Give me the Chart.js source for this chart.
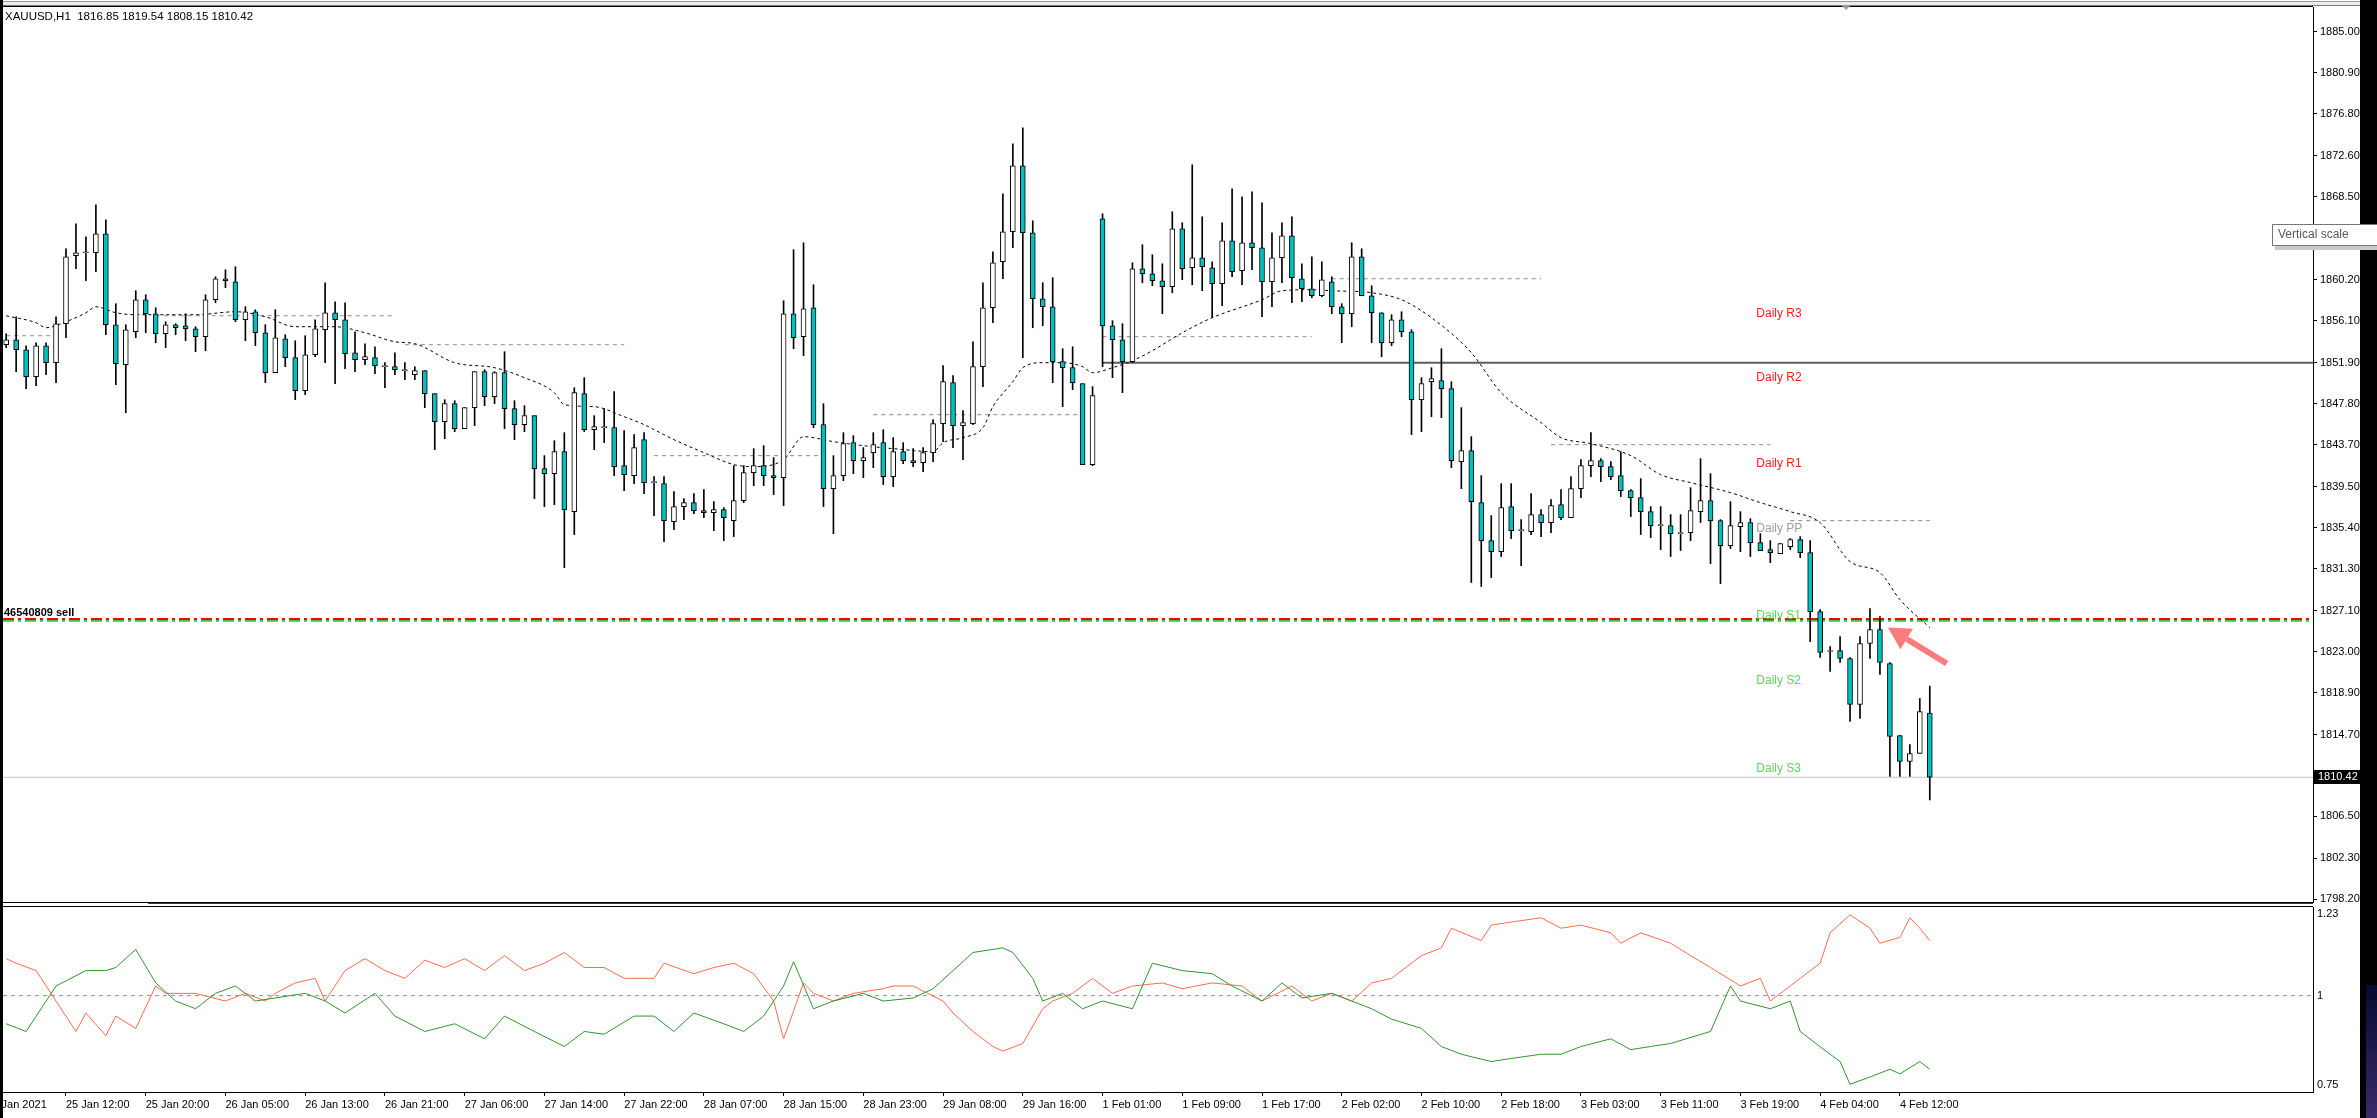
<!DOCTYPE html>
<html>
<head>
<meta charset="utf-8">
<title>XAUUSD,H1</title>
<script src="https://cdn.jsdelivr.net/npm/chart.js@4.4.1/dist/chart.umd.min.js"></script>
<style>
  html, body { margin: 0; padding: 0; background: #fff; overflow: hidden; }
  #wrap { position: relative; width: 2377px; height: 1118px; }
  canvas { position: absolute; left: 0; }
  #price { top: 0; }
  #ratio { top: 897px; }
</style>
</head>
<body>
<div id="wrap">
  <canvas id="price" width="2377" height="905"></canvas>
  <canvas id="ratio" width="2377" height="221"></canvas>
</div>
<script>
// ---- data ----
const symbol = 'XAUUSD,H1';

// hourly candles, bar 0 = 25 Jan 06:00 ... bar 193 = 4 Feb 15:00
const opens = [1853.7,1854.2,1853.2,1850.5,1853.6,1851.9,1855.8,1862.6,1862.9,1862.9,1864.8,1855.7,1851.7,1855.0,1858.2,1856.8,1854.8,1855.7,1855.6,1855.3,
  1854.5,1858.2,1860.3,1860.0,1856.2,1857.0,1854.9,1850.9,1854.3,1852.4,1849.1,1852.7,1855.2,1856.9,1856.2,1852.9,1852.2,1852.4,1851.5,1851.5,
  1851.1,1850.7,1851.1,1848.8,1846.0,1847.8,1845.3,1847.4,1851.0,1848.5,1850.9,1847.3,1845.7,1846.6,1841.3,1840.8,1843.0,1837.0,1848.8,1845.2,
  1845.4,1845.4,1841.6,1840.6,1844.2,1839.9,1839.8,1836.0,1837.5,1837.9,1837.1,1836.9,1837.2,1836.1,1838.1,1840.9,1841.6,1840.6,1840.4,1856.8,
  1854.5,1857.4,1845.7,1839.3,1840.6,1843.9,1842.1,1842.9,1843.9,1840.5,1843.0,1842.1,1841.9,1842.9,1845.8,1849.9,1845.6,1845.8,1851.5,1857.4,
  1862.0,1865.0,1871.6,1864.9,1858.3,1857.5,1852.0,1851.4,1849.8,1841.7,1866.3,1855.6,1854.2,1852.0,1861.3,1860.8,1860.1,1859.5,1865.3,1861.4,
  1862.4,1861.4,1859.8,1864.1,1861.1,1863.9,1863.4,1860.0,1862.4,1864.6,1860.3,1859.3,1858.6,1860.0,1857.5,1856.8,1862.5,1858.6,1856.9,1853.9,
  1856.2,1855.0,1848.2,1850.0,1850.1,1849.3,1842.0,1843.1,1837.9,1834.1,1833.0,1837.5,1835.1,1835.0,1836.7,1835.9,1837.7,1836.4,1839.3,1841.6,
  1842.1,1841.5,1840.6,1839.1,1838.4,1837.0,1835.6,1835.6,1834.8,1834.9,1837.0,1838.1,1836.1,1833.6,1835.5,1835.9,1833.9,1833.2,1832.8,1833.5,
  1834.2,1832.9,1827.0,1823.0,1823.1,1822.3,1817.7,1823.8,1825.2,1821.8,1814.6,1812.0,1812.8,1816.85];
const highs = [1854.8,1856.5,1853.6,1853.9,1853.9,1856.5,1863.3,1865.8,1864.5,1867.7,1866.2,1857.8,1855.7,1859.1,1858.7,1857.4,1856.0,1855.8,1856.8,1855.5,
  1858.7,1860.5,1861.2,1861.5,1857.5,1857.2,1855.7,1857.2,1854.7,1854.1,1854.6,1856.2,1859.9,1858.0,1857.9,1855.0,1853.8,1853.5,1851.9,1852.9,
  1851.9,1851.5,1851.1,1848.8,1848.2,1848.1,1847.4,1851.0,1851.2,1851.0,1853.0,1848.1,1847.6,1846.6,1842.6,1844.1,1844.9,1849.4,1850.4,1846.6,
  1847.3,1849.0,1845.1,1844.7,1844.9,1840.5,1840.5,1839.0,1838.3,1838.8,1839.2,1838.0,1837.4,1841.6,1841.6,1843.3,1843.6,1842.4,1858.1,1863.2,
  1863.9,1859.7,1847.8,1842.6,1844.9,1844.6,1843.4,1844.9,1845.2,1844.4,1843.9,1843.3,1843.4,1846.2,1851.6,1850.6,1847.1,1854.0,1859.9,1863.0,
  1868.8,1873.8,1875.4,1866.1,1859.9,1860.4,1853.3,1853.5,1849.8,1849.5,1866.8,1856.1,1855.8,1861.9,1863.7,1862.7,1861.8,1867.0,1865.9,1871.7,
  1866.5,1862.0,1865.9,1869.3,1868.5,1869.0,1867.9,1864.9,1865.9,1866.5,1861.8,1862.5,1862.0,1860.5,1857.8,1863.9,1863.3,1859.6,1856.9,1856.7,
  1857.0,1855.2,1850.4,1851.4,1853.3,1850.0,1847.4,1844.5,1840.6,1836.6,1839.8,1839.8,1836.2,1838.8,1837.2,1838.2,1839.2,1840.5,1842.2,1844.9,
  1842.3,1842.0,1843.0,1839.2,1840.3,1837.5,1837.5,1836.7,1836.7,1839.4,1842.3,1840.8,1836.2,1838.0,1837.0,1836.3,1834.8,1834.1,1833.8,1834.3,
  1834.5,1834.1,1827.2,1823.5,1824.5,1822.4,1824.5,1827.3,1826.5,1821.9,1814.6,1813.7,1818.3,1819.54];
const lows = [1853.4,1851.0,1849.3,1849.6,1850.7,1849.9,1854.4,1861.3,1860.1,1861.0,1854.7,1849.7,1846.9,1854.4,1854.9,1853.9,1853.4,1854.7,1854.1,1853.0,
  1853.1,1857.9,1859.4,1856.0,1854.1,1853.6,1849.9,1850.9,1851.5,1848.2,1848.7,1852.5,1851.9,1849.8,1851.3,1851.0,1851.7,1850.8,1849.4,1850.7,
  1850.2,1850.2,1847.4,1843.2,1844.3,1845.0,1845.3,1845.6,1847.6,1847.8,1845.3,1844.2,1845.0,1838.3,1837.5,1837.7,1831.4,1834.7,1845.0,1843.2,
  1843.9,1840.6,1839.1,1839.8,1838.8,1836.6,1834.0,1835.2,1836.2,1836.8,1836.4,1835.1,1834.1,1834.5,1837.9,1839.6,1839.6,1838.7,1837.6,1853.3,
  1852.6,1845.4,1837.5,1834.8,1840.1,1840.8,1840.4,1841.4,1839.7,1839.5,1841.8,1841.5,1841.0,1842.0,1844.0,1843.4,1842.2,1845.7,1849.5,1855.9,
  1860.3,1863.4,1852.4,1855.4,1855.6,1849.9,1847.5,1849.2,1841.7,1841.6,1851.5,1850.4,1848.9,1851.9,1859.9,1859.6,1856.8,1858.9,1860.2,1859.7,
  1859.1,1856.4,1857.6,1860.5,1859.7,1861.2,1856.5,1857.5,1859.9,1857.9,1858.0,1858.4,1858.5,1856.8,1853.9,1855.5,1858.6,1853.9,1852.5,1853.6,
  1854.5,1844.7,1845.0,1846.5,1846.4,1841.4,1839.3,1829.9,1829.5,1830.4,1832.5,1834.3,1831.6,1834.7,1834.5,1834.9,1836.2,1836.4,1838.4,1840.5,
  1840.0,1840.2,1838.5,1836.5,1834.7,1834.4,1833.2,1832.5,1833.1,1834.1,1835.9,1831.8,1829.8,1833.3,1833.0,1832.5,1833.1,1831.9,1832.8,1833.2,
  1832.4,1824.0,1822.4,1821.0,1821.9,1816.0,1816.3,1822.3,1820.7,1810.5,1810.5,1810.5,1812.8,1808.15];
const closes = [1854.2,1853.2,1850.5,1853.6,1851.9,1855.8,1862.5,1862.9,1862.9,1864.8,1855.7,1851.8,1855.2,1858.2,1856.8,1854.8,1855.7,1855.4,1855.3,1854.5,
  1858.2,1860.3,1860.1,1856.2,1857.0,1854.9,1850.9,1854.4,1852.4,1849.1,1852.7,1855.3,1856.9,1856.2,1852.8,1852.2,1852.5,1851.6,1851.5,1851.2,
  1851.1,1851.1,1848.8,1846.0,1847.8,1845.3,1847.4,1851.0,1848.5,1850.9,1847.3,1845.7,1846.6,1841.3,1840.8,1843.0,1837.2,1848.9,1845.2,1845.5,
  1845.4,1841.5,1840.7,1843.4,1839.9,1839.9,1836.1,1837.5,1837.9,1837.1,1836.9,1837.2,1836.4,1838.1,1840.9,1841.6,1840.6,1840.4,1856.8,1854.4,
  1857.3,1845.7,1839.3,1840.6,1843.8,1842.1,1842.4,1843.7,1840.5,1843.0,1842.1,1841.9,1842.9,1845.8,1850.0,1845.6,1845.9,1851.5,1857.4,1861.9,
  1865.0,1871.6,1864.9,1858.3,1857.5,1852.0,1851.4,1849.9,1841.7,1848.6,1855.6,1854.2,1852.0,1861.3,1860.8,1860.1,1859.5,1865.3,1861.3,1862.4,
  1861.5,1859.8,1864.1,1861.0,1863.9,1863.4,1860.0,1862.4,1864.6,1860.4,1859.3,1858.6,1860.2,1857.5,1856.8,1862.5,1858.6,1856.9,1853.9,1856.2,
  1855.0,1848.2,1849.8,1850.3,1849.3,1842.1,1843.1,1838.0,1834.1,1833.0,1837.4,1835.1,1835.1,1836.7,1835.9,1837.6,1836.4,1839.3,1841.6,1842.1,
  1841.5,1840.5,1839.1,1838.4,1837.0,1835.6,1835.6,1834.8,1834.8,1837.1,1838.1,1836.1,1833.6,1835.6,1835.9,1833.9,1833.1,1832.9,1833.8,1834.2,
  1832.9,1827.0,1822.9,1823.0,1822.3,1817.7,1823.8,1825.2,1821.9,1814.5,1812.0,1812.8,1817.0,1810.42];

// moving average (dashed black), sampled along the curve
const maBars = [0,3,4,6,8,9,11,13,16,19,23,26,29,33,36,39,41,45,49,52,55,56,59,62,64,67,70,73,75,78,
  80,83,86,89,93,94,96,98,99,101,102,104,106,108,109,111,113,115,118,121,126,128,131,133,137,140,143,147,150,154,
  156,159,163,166,169,173,176,179,182,185,188,190,193];
const maVals = [1856.6,1855.9,1855.4,1856.0,1856.9,1857.5,1856.9,1856.7,1856.7,1856.7,1857.0,1856.5,1855.5,1855.5,1854.9,1854.0,1853.8,1851.9,1851.4,1850.4,
  1848.9,1847.7,1847.5,1846.5,1845.7,1844.2,1842.9,1841.7,1841.5,1842.2,1844.5,1844.0,1843.6,1843.3,1843.0,1843.9,1844.4,1845.4,1847.5,1850.0,
  1851.4,1851.9,1851.9,1851.5,1850.9,1851.4,1852.1,1853.1,1854.9,1856.4,1858.2,1859.1,1859.2,1859.1,1858.9,1858.2,1856.4,1852.9,1848.9,1845.9,
  1844.4,1843.8,1842.6,1840.7,1839.9,1838.9,1837.9,1837.0,1835.9,1832.0,1830.9,1828.2,1825.4];

// previous-day pivot segments (grey dotted)
const pivotStart = [0, 15, 40, 65, 87, 110, 133, 155, 179];
const pivotEnd = [5, 39, 62, 82, 108, 131, 154, 177, 193];
const pivotLevels = [1854.6, 1856.6, 1853.7, 1842.6, 1846.7, 1854.5, 1860.3, 1843.7, 1836.1];

// daily pivot labels
const dailyNames = ['Daily R3', 'Daily R2', 'Daily R1', 'Daily PP', 'Daily S1', 'Daily S2', 'Daily S3'];
const dailyLevels = [1856.8, 1850.4, 1841.8, 1835.3, 1826.6, 1820.1, 1811.3];
const dailyBar = 175.6;

// horizontal objects
const levelLine = 1851.9, levelLineFrom = 110;
const sellPrice = 1826.2, sellTicket = '46540809 sell';
const arrowTip = [188.8, 1825.4], arrowTail = [194.7, 1821.8];

// ratio sub-window
const redBars = [0,1,3,5,7,8,10,11,13,15,16,19,22,24,26,27,29,31,32,34,36,38,40,42,44,46,48,50,52,54,56,58,60,62,65,66,69,71,73,75,
  77,78,80,81,83,85,88,89,91,94,95,97,99,100,102,104,105,107,109,111,113,116,118,121,124,126,129,131,133,135,137,139,142,144,145,148,149,151,154,156,
  158,161,162,164,167,169,171,174,176,177,179,180,182,183,185,187,188,190,191,192,193];
const redVals = [1.096,1.084,1.065,0.986,0.907,0.955,0.896,0.947,0.915,1.025,1.006,1.006,0.986,1.006,0.986,1.006,1.033,1.045,0.986,1.065,
  1.096,1.065,1.045,1.092,1.073,1.096,1.065,1.104,1.065,1.084,1.112,1.073,1.073,1.045,1.045,1.084,1.057,1.073,1.084,1.057,
  0.986,0.888,1.033,1.006,0.986,1.006,1.018,1.025,1.025,0.986,0.955,0.907,0.868,0.856,0.876,0.966,0.986,1.006,1.045,1.006,
  1.025,1.033,1.018,1.033,1.025,0.986,1.025,0.986,1.006,0.986,1.033,1.045,1.104,1.124,1.175,1.143,1.183,1.191,1.202,1.175,
  1.183,1.163,1.136,1.163,1.136,1.104,1.073,1.025,1.045,0.986,1.025,1.045,1.084,1.163,1.210,1.175,1.136,1.151,1.202,1.175,1.143];
const greenBars = [0,2,5,8,10,11,13,15,17,19,21,23,25,27,30,32,34,37,39,42,45,48,50,53,56,58,60,63,65,67,
  69,72,74,76,78,79,81,83,86,88,91,93,95,97,100,101,103,104,106,108,110,113,115,118,121,123,126,128,130,133,
  135,137,139,142,144,146,149,151,154,156,158,161,163,165,167,171,173,174,177,179,180,183,184,185,187,189,190,192,193];
const greenVals = [0.927,0.907,1.025,1.065,1.065,1.073,1.120,1.033,0.986,0.966,1.006,1.025,0.986,0.994,1.006,0.986,0.955,1.006,0.947,0.907,
  0.927,0.888,0.947,0.907,0.868,0.907,0.900,0.947,0.947,0.907,0.955,0.927,0.907,0.947,1.025,1.088,0.966,0.986,1.006,0.986,
  0.994,1.018,1.065,1.112,1.124,1.112,1.045,0.986,1.006,0.966,0.986,0.966,1.084,1.065,1.057,1.025,0.986,1.033,0.994,1.006,
  0.986,0.966,0.939,0.915,0.868,0.848,0.829,0.837,0.848,0.848,0.868,0.888,0.860,0.868,0.876,0.907,1.025,0.986,0.966,0.986,
  0.907,0.848,0.829,0.770,0.789,0.809,0.797,0.829,0.809];

// axis ticks
const priceTicks = [1885.00,1880.90,1876.80,1872.60,1868.50,1864.40,1860.20,1856.10,1851.90,1847.80,1843.70,1839.50,
  1835.40,1831.30,1827.10,1823.00,1818.90,1814.70,1810.60,1806.50,1802.30,1798.20];
const ratioTicks = [1.23, 1, 0.75];
const timeLabels = ['25 Jan 2021','25 Jan 12:00','25 Jan 20:00','26 Jan 05:00','26 Jan 13:00','26 Jan 21:00','27 Jan 06:00',
  '27 Jan 14:00','27 Jan 22:00','28 Jan 07:00','28 Jan 15:00','28 Jan 23:00','29 Jan 08:00','29 Jan 16:00','1 Feb 01:00',
  '1 Feb 09:00','1 Feb 17:00','2 Feb 02:00','2 Feb 10:00','2 Feb 18:00','3 Feb 03:00','3 Feb 11:00','3 Feb 19:00',
  '4 Feb 04:00','4 Feb 12:00'];
const timeTickBars = [-2,6,14,22,30,38,46,54,62,70,78,86,94,102,110,118,126,134,142,150,158,166,174,182,190];

// ---- chart setup ----
const FONT = '"Liberation Sans", Arial, sans-serif';
Chart.defaults.font.family = FONT;
const xMin = -0.32, xMax = 231.45;
const AXIS_W = 64;
const TEAL = '#00bfbf';
const last = closes.length - 1;
const bars = closes.map((_, i) => i);

function hLine(value, from, to) {
  return [{x: from, y: value}, {x: to, y: value}];
}
function flatLine(data, color, width, dash, order) {
  return {type: 'line', data, borderColor: color, borderWidth: width, borderDash: dash || [],
    pointRadius: 0, fill: false, tension: 0, order};
}
function fixedAxis(s) {
  s.width = AXIS_W;
  s.paddingTop = 0; s.paddingBottom = 0; s.paddingLeft = 0; s.paddingRight = 0;
}

const pivotSets = pivotLevels.map((lv, k) =>
  flatLine(hLine(lv, pivotStart[k], pivotEnd[k]), '#8c8c8c', 1, [4, 4], 3));

const priceDecor = {
  id: 'priceDecor',
  afterDraw(chart) {
    const {ctx, chartArea: a, scales: {x, y}} = chart;
    const W = chart.width, H = chart.height;
    ctx.save();
    // window top edge
    ctx.fillStyle = '#ffffff'; ctx.fillRect(0, 0, W, a.top);
    ctx.fillStyle = '#9a9a9a'; ctx.fillRect(0, 1, W, 1);
    ctx.fillStyle = '#ececec'; ctx.fillRect(0, 2, W, a.top - 4);
    ctx.fillStyle = '#7a7a7a'; ctx.fillRect(0, a.top - 2, W, 1);
    ctx.fillStyle = '#000'; ctx.fillRect(a.left, a.top - 1, a.right - a.left, 1);
    // shift marker
    const sx = x.getPixelForValue(184.6);
    ctx.fillStyle = '#9a9a9a';
    ctx.beginPath(); ctx.moveTo(sx - 5, a.top - 2); ctx.lineTo(sx + 5, a.top - 2); ctx.lineTo(sx, a.top + 3); ctx.closePath(); ctx.fill();
    // bottom edge
    ctx.fillStyle = '#000'; ctx.fillRect(a.left, a.bottom, a.right - a.left, 1);

    // header
    ctx.font = '11.5px ' + FONT; ctx.textBaseline = 'middle'; ctx.textAlign = 'left';
    ctx.fillStyle = '#000';
    const hdr = symbol + '  ' + [opens[last], highs[last], lows[last], closes[last]].map(v => v.toFixed(2)).join(' ');
    ctx.fillText(hdr, a.left + 2, a.top + 10);

    // order label
    ctx.font = 'bold 11px ' + FONT;
    ctx.fillText(sellTicket, a.left + 1, y.getPixelForValue(sellPrice) - 7);

    // daily pivot labels
    ctx.font = '12px ' + FONT;
    dailyNames.forEach((t, k) => {
      ctx.fillStyle = t.indexOf(' R') > 0 ? '#ff1a1a' : (t.indexOf('PP') > 0 ? '#9aa0aa' : '#5cd65c');
      ctx.fillText(t, x.getPixelForValue(dailyBar), y.getPixelForValue(dailyLevels[k]));
    });

    // arrow
    const tx = x.getPixelForValue(arrowTip[0]), ty = y.getPixelForValue(arrowTip[1]);
    const bx0 = x.getPixelForValue(arrowTail[0]), by0 = y.getPixelForValue(arrowTail[1]);
    const ang = Math.atan2(ty - by0, tx - bx0);
    const hl = 22, hw = 12;
    const hx = tx - hl * Math.cos(ang), hy = ty - hl * Math.sin(ang);
    ctx.strokeStyle = '#fa7c7c'; ctx.fillStyle = '#fa7c7c'; ctx.lineWidth = 6;
    ctx.beginPath(); ctx.moveTo(bx0, by0); ctx.lineTo(hx, hy); ctx.stroke();
    ctx.beginPath(); ctx.moveTo(tx, ty);
    ctx.lineTo(hx + hw * Math.sin(ang), hy - hw * Math.cos(ang));
    ctx.lineTo(hx - hw * Math.sin(ang), hy + hw * Math.cos(ang));
    ctx.closePath(); ctx.fill();

    // current price box
    const py = Math.round(y.getPixelForValue(closes[last]));
    ctx.fillStyle = '#000'; ctx.fillRect(a.right + 1, py - 7, 50, 14);
    ctx.fillStyle = '#fff'; ctx.font = '11px ' + FONT;
    ctx.fillText(closes[last].toFixed(2), a.right + 5, py);

    // screen borders
    ctx.fillStyle = '#000';
    ctx.fillRect(0, 0, 3, H);
    ctx.fillRect(2360, 0, W - 2360, H);

    // tooltip
    ctx.fillStyle = '#c8c8c8'; ctx.fillRect(2275, 227, 110, 23);
    ctx.fillStyle = '#ffffff'; ctx.fillRect(2272, 224, 110, 22);
    ctx.strokeStyle = '#767676'; ctx.lineWidth = 1; ctx.strokeRect(2272.5, 224.5, 110, 21);
    ctx.fillStyle = '#575757'; ctx.font = '12px ' + FONT;
    ctx.fillText('Vertical scale', 2278, 235);
    ctx.restore();
  }
};

new Chart(document.getElementById('price'), {
  type: 'bar',
  data: {
    datasets: [
      {type: 'bar', data: bars.map(i => ({x: i, y: [opens[i], closes[i]]})),
        backgroundColor: bars.map(i => closes[i] < opens[i] ? TEAL : '#ffffff'),
        borderColor: '#000', borderWidth: 1, borderSkipped: false, barThickness: 5, minBarLength: 1,
        grouped: false, order: 0},
      {type: 'bar', data: bars.map(i => ({x: i, y: [lows[i], highs[i]]})),
        backgroundColor: '#000', borderWidth: 0, barThickness: 1, grouped: false, order: 1},
      {type: 'line', data: maBars.map((b, k) => ({x: b, y: maVals[k]})), borderColor: '#000', borderWidth: 1,
        borderDash: [3, 3], pointRadius: 0, cubicInterpolationMode: 'monotone', order: 2},
      ...pivotSets,
      flatLine(hLine(levelLine, levelLineFrom, xMax), '#5e5e5e', 2, null, 4),
      flatLine(hLine(closes[last], xMin, xMax), '#c4c4c4', 1, null, 4),
      flatLine(hLine(sellPrice - 0.12, xMin, xMax), '#3cc83c', 2, [11, 4, 3, 4], 5),
      flatLine(hLine(sellPrice + 0.05, xMin, xMax), '#ff0000', 2, [11, 4, 3, 4], 4)
    ]
  },
  options: {
    responsive: false, animation: false, devicePixelRatio: 1, events: [],
    layout: {padding: {left: 3, top: 7, right: 0, bottom: 3}},
    plugins: {legend: {display: false}, tooltip: {enabled: false}},
    scales: {
      x: {type: 'linear', min: xMin, max: xMax, display: false, offset: false, grid: {offset: false}},
      y: {
        position: 'right', min: 1797.94, max: 1887.49, beginAtZero: false,
        afterBuildTicks: s => { s.ticks = priceTicks.map(v => ({value: v})); },
        afterFit: fixedAxis,
        grid: {drawOnChartArea: false, tickLength: 4, color: '#000'},
        border: {display: true, color: '#000'},
        ticks: {color: '#000', padding: 3, font: {size: 11}, callback: v => Number(v).toFixed(2)}
      }
    }
  },
  plugins: [priceDecor]
});

const ratioDecor = {
  id: 'ratioDecor',
  afterDraw(chart) {
    const {ctx, chartArea: a} = chart;
    const W = chart.width, H = chart.height;
    ctx.save();
    // splitter between main window and sub-window
    ctx.fillStyle = '#3c3c3c';
    ctx.fillRect(148, a.top - 4, a.right - 148, 1);
    ctx.fillStyle = '#000';
    ctx.fillRect(a.left, a.top - 1, a.right - a.left, 1);
    ctx.fillRect(0, 0, 3, H);
    ctx.fillRect(2360, 0, W - 2360, H);
    const g = ctx.createLinearGradient(0, 88, 0, H);
    g.addColorStop(0, '#050a30'); g.addColorStop(1, '#3a2a6a');
    ctx.fillStyle = g; ctx.fillRect(2366, 88, W - 2366, H - 88);
    ctx.restore();
  }
};

// top label sits just under its tick, bottom label just above, like the terminal does
function ratioLabel(v) {
  if (v === ratioTicks[0]) return ['', String(v)];
  if (v === ratioTicks[ratioTicks.length - 1]) return [String(v), ''];
  return String(v);
}

new Chart(document.getElementById('ratio'), {
  type: 'line',
  data: {
    datasets: [
      flatLine(hLine(1, xMin, xMax), '#8c8c8c', 1, [4, 4], 3),
      flatLine(redBars.map((b, k) => ({x: b, y: redVals[k]})), '#ff6a4d', 1, null, 1),
      flatLine(greenBars.map((b, k) => ({x: b, y: greenVals[k]})), '#2f962f', 1, null, 0)
    ]
  },
  options: {
    responsive: false, animation: false, devicePixelRatio: 1, events: [],
    layout: {padding: {left: 3, top: 10, right: 0, bottom: 0}},
    plugins: {legend: {display: false}, tooltip: {enabled: false}},
    scales: {
      x: {
        type: 'linear', min: xMin, max: xMax, offset: false,
        afterBuildTicks: s => { s.ticks = timeTickBars.map(v => ({value: v})); },
        afterFit: s => { s.height = 26; s.paddingLeft = 0; s.paddingRight = 0; },
        grid: {drawOnChartArea: false, tickLength: 4, color: '#000', offset: false},
        border: {display: true, color: '#000'},
        ticks: {autoSkip: false, maxRotation: 0, minRotation: 0, align: 'start', padding: 2, color: '#000',
          font: {size: 11}, callback: v => timeLabels[timeTickBars.indexOf(v)]}
      },
      y: {
        position: 'right', min: 0.75, max: 1.23,
        afterBuildTicks: s => { s.ticks = ratioTicks.map(v => ({value: v})); },
        afterFit: fixedAxis,
        grid: {drawOnChartArea: false, drawTicks: false},
        border: {display: true, color: '#000'},
        ticks: {color: '#000', padding: 4, font: {size: 11}, callback: ratioLabel}
      }
    }
  },
  plugins: [ratioDecor]
});
</script>
</body>
</html>
